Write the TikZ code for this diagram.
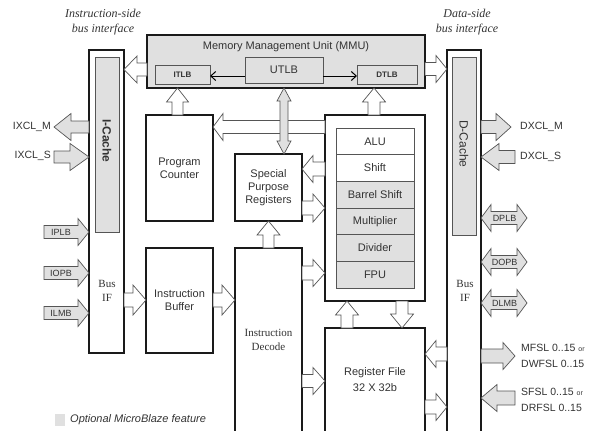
\documentclass[tikz,border=0pt]{standalone}
\usepackage{fontspec}
\setmainfont{Liberation Sans}
\newfontfamily\seriffont{Liberation Serif}
\usetikzlibrary{calc,arrows.meta}
\definecolor{boxline}{HTML}{1A1A1A}
\definecolor{txt}{HTML}{333333}
\definecolor{optfill}{HTML}{E0E0E0}
\definecolor{arrline}{HTML}{555555}
% horizontal block arrow: [style]{from}{to}{head length}{shaft half}{head half}
\newcommand\hblk[6][hollow]{\draw[#1] let \p1=#2,\p2=#3,\n1={#4*(\x2-\x1)/abs(\x2-\x1)} in
 (\x1,{\y1+#5}) -- ({\x2-\n1},{\y1+#5}) -- ({\x2-\n1},{\y1+#6}) -- (\x2,\y1) -- ({\x2-\n1},{\y1-#6}) -- ({\x2-\n1},{\y1-#5}) -- (\x1,{\y1-#5}) -- cycle;}
\newcommand\vblk[6][hollow]{\draw[#1] let \p1=#2,\p2=#3,\n1={#4*(\y2-\y1)/abs(\y2-\y1)} in
 ({\x1+#5},\y1) -- ({\x1+#5},{\y2-\n1}) -- ({\x1+#6},{\y2-\n1}) -- (\x1,\y2) -- ({\x1-#6},{\y2-\n1}) -- ({\x1-#5},{\y2-\n1}) -- ({\x1-#5},\y1) -- cycle;}
\newcommand\hdbl[6][grayarr]{\draw[#1] let \p1=#2,\p2=#3,\n1={#4*(\x2-\x1)/abs(\x2-\x1)} in
 (\x1,\y1) -- ({\x1+\n1},{\y1+#6}) -- ({\x1+\n1},{\y1+#5}) -- ({\x2-\n1},{\y1+#5}) -- ({\x2-\n1},{\y1+#6}) -- (\x2,\y1) -- ({\x2-\n1},{\y1-#6}) -- ({\x2-\n1},{\y1-#5}) -- ({\x1+\n1},{\y1-#5}) -- ({\x1+\n1},{\y1-#6}) -- cycle;}
\newcommand\vdbl[6][grayarr]{\draw[#1] let \p1=#2,\p2=#3,\n1={#4*(\y2-\y1)/abs(\y2-\y1)} in
 (\x1,\y1) -- ({\x1+#6},{\y1+\n1}) -- ({\x1+#5},{\y1+\n1}) -- ({\x1+#5},{\y2-\n1}) -- ({\x1+#6},{\y2-\n1}) -- (\x1,\y2) -- ({\x1-#6},{\y2-\n1}) -- ({\x1-#5},{\y2-\n1}) -- ({\x1-#5},{\y1+\n1}) -- ({\x1-#6},{\y1+\n1}) -- cycle;}
\begin{document}
\begin{tikzpicture}[x=1pt,y=-1pt,
  box/.style={draw=boxline, line width=1.2pt, fill=white, inner sep=0pt, outer sep=0pt, anchor=north west},
  optbox/.style={draw=arrline, line width=0.7pt, fill=optfill, inner sep=0pt, outer sep=0pt, anchor=north west, text=txt},
  row/.style={draw=arrline, line width=0.7pt, inner sep=0pt, outer sep=0pt, anchor=north west, minimum width=78pt, minimum height=26.67pt, text=txt, font=\fontsize{11}{13}\selectfont},
  hollow/.style={draw=arrline, line width=0.7pt, fill=white},
  grayarr/.style={draw=arrline, line width=0.7pt, fill=optfill},
  lbl/.style={text=txt, font=\fontsize{11}{13}\selectfont, align=center, inner sep=0pt},
  slbl/.style={text=txt, font=\seriffont\fontsize{11}{14}\selectfont, align=center, inner sep=0pt},
  title/.style={text=txt, font=\seriffont\itshape\fontsize{12}{15}\selectfont, align=center, inner sep=0pt},
  extl/.style={text=txt, font=\fontsize{10.5}{16}\selectfont, align=left, inner sep=0pt},
  inl/.style={text=txt, font=\fontsize{9}{10}\selectfont, inner sep=0pt},
  thinarr/.style={draw=black, line width=1pt, -{Straight Barb[length=5pt,width=9pt]}}]
\useasboundingbox (0,0) rectangle (597,431);
\clip (0,0) rectangle (597,431);
% titles
\node[title] (ititle) at (103,22) {Instruction-side\\bus interface};
\node[title] (dtitle) at (467,22) {Data-side\\bus interface};
% MMU
\node[box, fill=optfill, line width=1.5pt, minimum width=278pt, minimum height=53pt] (mmu) at (147,35) {};
\node[lbl] (mmuT) at (286,47) {Memory Management Unit (MMU)};
\node[optbox, minimum width=55pt, minimum height=19pt, font=\bfseries\fontsize{8}{9}\selectfont] (itlb) at (155,65) {ITLB};
\node[optbox, minimum width=78pt, minimum height=26pt, font=\fontsize{11}{13}\selectfont] (utlb) at (245,57) {UTLB};
\node[optbox, minimum width=60pt, minimum height=19pt, font=\bfseries\fontsize{8}{9}\selectfont] (dtlb) at (357,65) {DTLB};
\draw[thinarr] (utlb.west|-0,76) -- (itlb.east|-0,76);
\draw[thinarr] (utlb.east|-0,76) -- (dtlb.west|-0,76);
% instruction side bus
\node[box, minimum width=35pt, minimum height=303pt] (ibus) at (89,50) {};
\node[optbox, minimum width=24pt, minimum height=175pt] (icache) at (95,57) {};
\node[lbl, rotate=-90, font=\bfseries\fontsize{12}{14}\selectfont] (icacheT) at (107,141) {I-Cache};
\node[slbl] (ibusT) at (107,291) {Bus\\IF};
% data side bus
\node[box, minimum width=34pt, minimum height=400pt] (dbus) at (447,50) {};
\node[optbox, minimum width=24pt, minimum height=178pt] (dcache) at (452,57) {};
\node[lbl, rotate=-90, font=\fontsize{12}{14}\selectfont] (dcacheT) at (464,144) {D-Cache};
\node[slbl] (dbusT) at (465,291) {Bus\\IF};
% core blocks
\node[box, minimum width=67pt, minimum height=106pt] (pc) at (146,115) {};
\node[lbl] (pcT) at (179.5,168) {Program\\Counter};
\node[box, minimum width=67pt, minimum height=67pt] (spr) at (235,154) {};
\node[lbl] (sprT) at (268.5,188) {Special\\Purpose\\Registers};
\node[box, minimum width=67pt, minimum height=105pt] (ib) at (146,248) {};
\node[lbl] (ibT) at (179.5,300) {Instruction\\Buffer};
\node[box, minimum width=67pt, minimum height=200pt] (id) at (235,248) {};
\node[slbl] (idT) at (268.5,340) {Instruction\\Decode};
\node[box, minimum width=100pt, minimum height=186pt] (exec) at (325,115) {};
\node[row, fill=white] (alu) at (336,128) {ALU};
\node[row, fill=white] (shift) at (336,154.67) {Shift};
\node[row, fill=optfill] (barrel) at (336,181.33) {Barrel Shift};
\node[row, fill=optfill] (mult) at (336,208) {Multiplier};
\node[row, fill=optfill] (divd) at (336,234.67) {Divider};
\node[row, fill=optfill] (fpu) at (336,261.33) {FPU};
\node[box, minimum width=100pt, minimum height=120pt] (rf) at (325,328) {};
\node[lbl, font=\fontsize{11}{16}\selectfont] (rfT) at (375,380) {Register File\\32 X 32b};
% internal hollow arrows
\hblk{(mmu.west|-0,69.5)}{(ibus.east|-0,69.5)}{13}{6.5}{13.5}
\hblk{(mmu.east|-0,69)}{(dbus.west|-0,69)}{11}{6.5}{13.5}
\vblk{(177.5,0|-pc.north)}{(177.5,0|-mmu.south)}{14}{5.5}{11}
\vblk{(374,0|-exec.north)}{(374,0|-mmu.south)}{14}{6}{11.5}
\hblk{(exec.west|-0,127)}{(pc.east|-0,127)}{10}{6.5}{13.5}
\hblk{(exec.west|-0,169)}{(spr.east|-0,169)}{11}{7}{13.5}
\hblk{(spr.east|-0,208)}{(exec.west|-0,208)}{12}{7}{14}
\hblk{(id.east|-0,273)}{(exec.west|-0,273)}{12}{7}{13.5}
\vblk{(268.5,0|-id.north)}{(268.5,0|-spr.south)}{14}{5.5}{11.5}
\hblk{(ibus.east|-0,300)}{(ib.west|-0,300)}{13}{7}{15}
\hblk{(ib.east|-0,300)}{(id.west|-0,300)}{13}{7}{15}
\hblk{(id.east|-0,381)}{(rf.west|-0,381)}{12}{6.5}{13.5}
\vblk{(347,0|-rf.north)}{(347,0|-exec.south)}{14}{6}{11.5}
\vblk{(402,0|-exec.south)}{(402,0|-rf.north)}{14}{6}{11.5}
\hblk{(dbus.west|-0,354)}{(rf.east|-0,354)}{11}{7}{13.5}
\hblk{(rf.east|-0,407)}{(dbus.west|-0,407)}{11}{7}{13.5}
\vdbl[grayarr]{(284,0|-mmu.south)}{(284,0|-spr.north)}{13}{4}{7}
% instruction side external
\coordinate (ixclm) at (54,127);
\coordinate (ixcls) at (54,157);
\coordinate (iplb) at (44,232);
\coordinate (iopb) at (44,273);
\coordinate (ilmb) at (44,313);
\hblk[grayarr]{(ibus.west|-ixclm)}{(ixclm)}{17}{6}{13.5}
\hblk[grayarr]{(ixcls)}{(ibus.west|-ixcls)}{19}{6}{13.5}
\hblk[grayarr]{(iplb)}{(ibus.west|-iplb)}{11}{6.5}{13.5}
\hblk[grayarr]{(iopb)}{(ibus.west|-iopb)}{11}{6.5}{13.5}
\hblk[grayarr]{(ilmb)}{(ibus.west|-ilmb)}{11}{6.5}{13.5}
\node[extl, anchor=east] (ixclmL) at (51,127) {IXCL\_M};
\node[extl, anchor=east] (ixclsL) at (51,156) {IXCL\_S};
\node[inl] (iplbL) at (61,232) {IPLB};
\node[inl] (iopbL) at (61,273) {IOPB};
\node[inl] (ilmbL) at (61,313) {ILMB};
% data side external
\coordinate (dxclm) at (511,127);
\coordinate (dxcls) at (515,157);
\coordinate (dplb) at (527,218);
\coordinate (dopb) at (527,262);
\coordinate (dlmb) at (527,303);
\coordinate (mfsl) at (515,356);
\coordinate (sfsl) at (515,398);
\hblk[grayarr]{(dbus.east|-dxclm)}{(dxclm)}{15}{6.5}{13.5}
\hblk[grayarr]{(dxcls)}{(dbus.east|-dxcls)}{18}{6.5}{13.5}
\hdbl{(dbus.east|-dplb)}{(dplb)}{10}{6.5}{13.5}
\hdbl{(dbus.east|-dopb)}{(dopb)}{10}{6.5}{13.5}
\hdbl{(dbus.east|-dlmb)}{(dlmb)}{10}{6.5}{13.5}
\hblk[grayarr]{(dbus.east|-mfsl)}{(mfsl)}{12}{7}{13.5}
\hblk[grayarr]{(sfsl)}{(dbus.east|-sfsl)}{16}{7}{13.5}
\node[inl] (dplbL) at (504.5,218) {DPLB};
\node[inl] (dopbL) at (504.5,262) {DOPB};
\node[inl] (dlmbL) at (504.5,303) {DLMB};
\node[extl, anchor=west] (dxclmL) at (520,127) {DXCL\_M};
\node[extl, anchor=west] (dxclsL) at (520,157) {DXCL\_S};
\node[extl, anchor=west] (mfslL) at (521,356) {MFSL 0..15 {\fontsize{7}{8}\selectfont or}\\DWFSL 0..15};
\node[extl, anchor=west] (sfslL) at (521,400) {SFSL 0..15 {\fontsize{7}{8}\selectfont or}\\DRFSL 0..15};
% legend
\node[fill=optfill, inner sep=0pt, minimum width=10pt, minimum height=12pt] (legbox) at (60,420) {};
\node[text=txt, font=\itshape\fontsize{11}{13}\selectfont, anchor=west, inner sep=0pt] (legT) at (70,420) {Optional MicroBlaze feature};
\end{tikzpicture}
\end{document}
